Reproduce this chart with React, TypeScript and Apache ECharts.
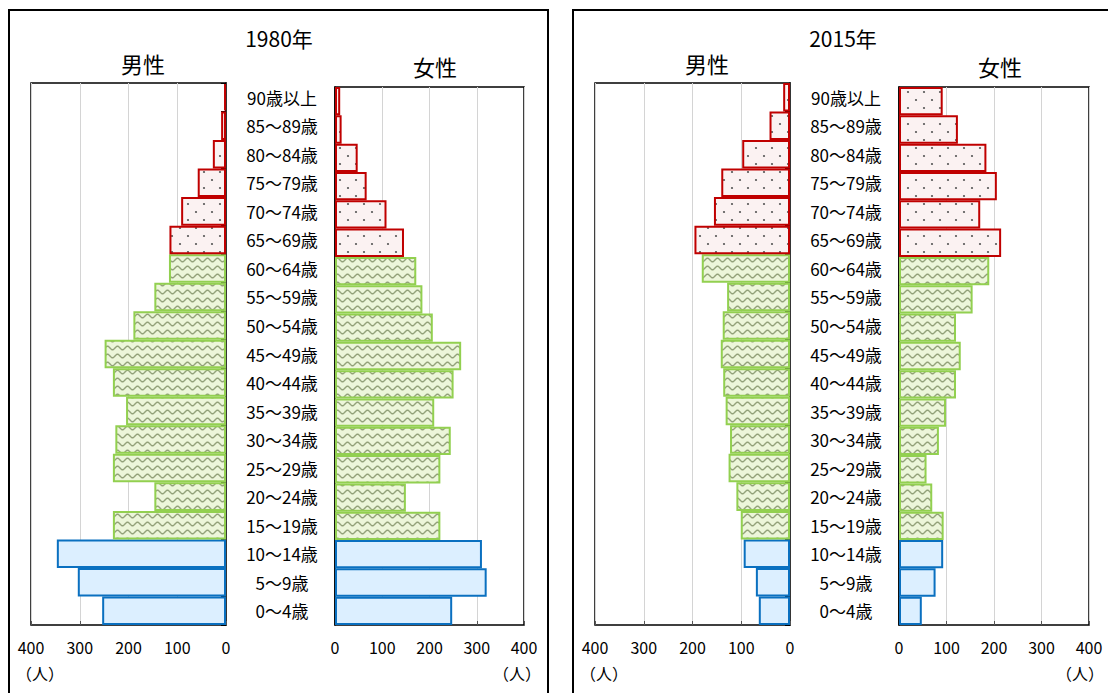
import React, { useEffect, useRef } from "react";
import * as echarts from "echarts";

const ageLabels = [
  "0～4歳", "5～9歳", "10～14歳", "15～19歳", "20～24歳", "25～29歳", "30～34歳",
  "35～39歳", "40～44歳", "45～49歳", "50～54歳", "55～59歳", "60～64歳",
  "65～69歳", "70～74歳", "75～79歳", "80～84歳", "85～89歳", "90歳以上",
];
const male1980 = [254, 304, 347, 232, 147, 232, 227, 205, 232, 249, 190, 147, 117, 116, 92, 58, 27, 10, 4];
const female1980 = [248, 321, 311, 223, 150, 223, 245, 210, 251, 267, 207, 185, 172, 146, 109, 67, 48, 14, 11];
const male2015 = [64, 70, 95, 101, 110, 126, 123, 132, 137, 142, 138, 129, 181, 196, 156, 141, 98, 42, 14];
const female2015 = [48, 77, 93, 94, 70, 58, 84, 99, 120, 130, 120, 155, 190, 215, 171, 206, 184, 124, 92];
const xTicks = [0, 100, 200, 300, 400];
const panelTitles = ["1980年", "2015年"];
const sexTitles = ["男性", "女性"];
const unitLabel = "（人）";

const FONT = "'Noto Sans CJK JP', 'Noto Sans', sans-serif";

function makeWave(): string {
  const c = document.createElement("canvas");
  c.width = 10;
  c.height = 8;
  const g = c.getContext("2d")!;
  g.fillStyle = "#ecf6da";
  g.fillRect(0, 0, 10, 8);
  g.strokeStyle = "#93a27a";
  g.lineWidth = 1.4;
  g.beginPath();
  for (let x = -1; x <= 11; x += 0.5) {
    const y = 4 + 1.8 * Math.sin((2 * Math.PI * x) / 10);
    if (x === -1) g.moveTo(x, y);
    else g.lineTo(x, y);
  }
  g.stroke();
  return c.toDataURL();
}

function makeDots(): string {
  const c = document.createElement("canvas");
  c.width = 16;
  c.height = 16;
  const g = c.getContext("2d")!;
  g.fillStyle = "#fbf2f2";
  g.fillRect(0, 0, 16, 16);
  g.fillStyle = "#555";
  for (const [x, y] of [[4, 4], [12, 12]]) {
    g.beginPath();
    g.arc(x, y, 1.1, 0, Math.PI * 2);
    g.fill();
  }
  return c.toDataURL();
}

export default function App() {
  const ref = useRef<HTMLDivElement>(null);
  useEffect(() => {
    if (!ref.current) return;
    const chart = echarts.init(ref.current, null, { renderer: "svg" });
    const wave = makeWave();
    const dots = makeDots();
    const styleFor = (i: number) => {
      if (i <= 2) return { color: "#dcefff", borderColor: "#0a70c0", borderWidth: 2 };
      if (i <= 12)
        return {
          color: { image: wave, repeat: "repeat", imageWidth: 10, imageHeight: 8 },
          borderColor: "#92d050",
          borderWidth: 2,
        };
      return {
        color: { image: dots, repeat: "repeat", imageWidth: 16, imageHeight: 16 },
        borderColor: "#c00000",
        borderWidth: 2,
      };
    };
    const grids = [
      { left: 31, top: 83, width: 195, height: 542 },
      { left: 335, top: 87, width: 189, height: 538 },
      { left: 595, top: 83, width: 195, height: 542 },
      { left: 899, top: 87, width: 190, height: 538 },
    ];
    const datasets = [male1980, female1980, male2015, female2015];
    const xAxis = grids.map((_, i) => ({
      type: "value",
      gridIndex: i,
      min: 0,
      max: 400,
      interval: 100,
      inverse: i % 2 === 0,
      axisLine: { show: false },
      axisTick: { show: true, inside: true, length: 4, lineStyle: { color: "#555" } },
      splitLine: { show: true, lineStyle: { color: "#d4d4d4", width: 1 } },
      axisLabel: {
        color: "#000",
        fontSize: 16,
        fontFamily: FONT,
        margin: 14,
        formatter: (v: number) => (xTicks.includes(v) ? String(v) : ""),
      },
    }));
    const yAxis = grids.map((_, i) => ({
      type: "category",
      gridIndex: i,
      data: ageLabels,
      position: i % 2 === 0 ? "right" : "left",
      axisLine: { show: true, lineStyle: { color: "#000", width: 1.5 } },
      axisTick: { show: i % 2 === 0, inside: true, length: 5, lineStyle: { color: "#000" } },
      axisLabel: {
        show: i % 2 === 0,
        align: "center",
        margin: 56,
        color: "#000",
        fontSize: 17,
        fontFamily: FONT,
      },
    }));
    const series = datasets.map((d, i) => ({
      type: "bar",
      xAxisIndex: i,
      yAxisIndex: i,
      barCategoryGap: "0%",
      data: d.map((v, k) => ({ value: v, itemStyle: styleFor(k) })),
    }));
    const txt = (text: string, x: number, y: number, size: number) => ({
      type: "text",
      x,
      y,
      style: {
        text,
        fill: "#000",
        font: `${size}px ${FONT}`,
        textAlign: "center",
        textVerticalAlign: "middle",
      },
    });
    const graphic: any[] = [
      { type: "rect", shape: { x: 9, y: 10, width: 539, height: 700 }, style: { fill: "none", stroke: "#000", lineWidth: 2 } },
      { type: "rect", shape: { x: 573, y: 10, width: 560, height: 700 }, style: { fill: "none", stroke: "#000", lineWidth: 2 } },
      txt(panelTitles[0], 279, 38, 21),
      txt(sexTitles[0], 143, 63, 22),
      txt(sexTitles[1], 435, 66, 22),
      txt(panelTitles[1], 843, 38, 21),
      txt(sexTitles[0], 707, 63, 22),
      txt(sexTitles[1], 1000, 66, 22),
      txt(unitLabel, 40, 673, 16),
      txt(unitLabel, 517, 673, 16),
      txt(unitLabel, 604, 673, 16),
      txt(unitLabel, 1080, 673, 16),
    ];
    chart.setOption({
      animation: false,
      grid: grids.map((g) => ({ ...g, show: true, borderColor: "#000", borderWidth: 1.5, backgroundColor: "transparent" })),
      xAxis,
      yAxis,
      series,
      graphic,
    });
    return () => chart.dispose();
  }, []);
  return (
    <div
      ref={ref}
      style={{ position: "fixed", left: 0, top: 0, width: 1108, height: 693, background: "#fff" }}
    />
  );
}
